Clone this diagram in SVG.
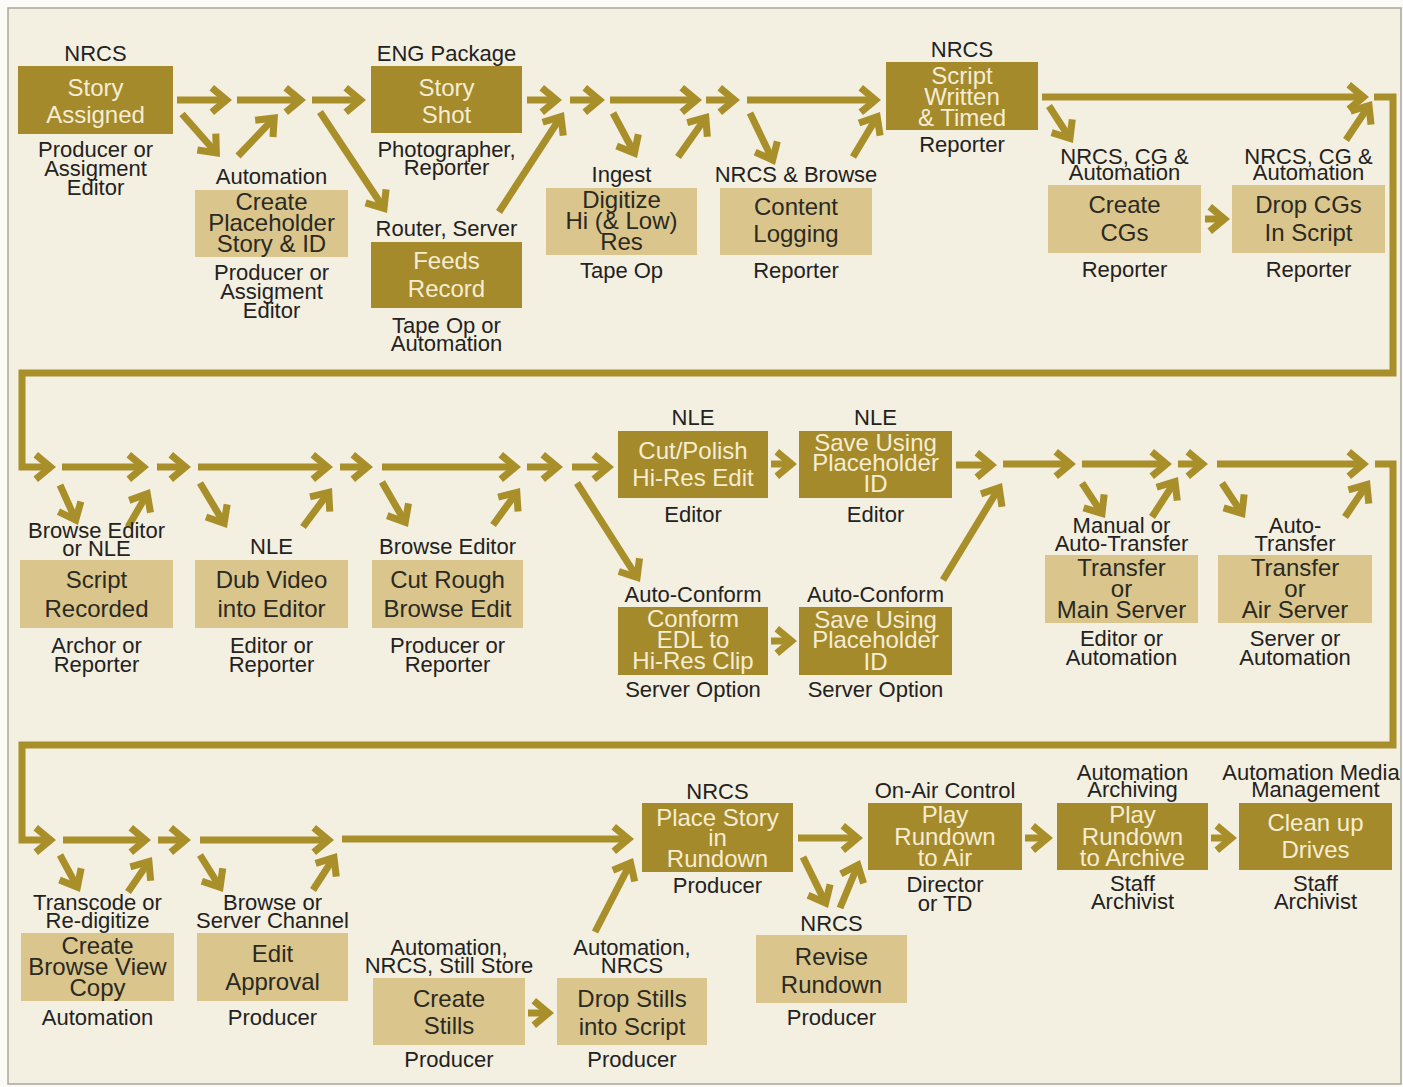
<svg xmlns="http://www.w3.org/2000/svg" width="1403" height="1087" viewBox="0 0 1403 1087">
<defs>
<style>
.d{fill:#a48a2b}
.l{fill:#dac58c}
.dt{font-family:"Liberation Sans",Arial,sans-serif;font-size:24px;fill:#f6edd3;text-anchor:middle}
.lt{font-family:"Liberation Sans",Arial,sans-serif;font-size:24px;fill:#2b2a22;text-anchor:middle}
.lb{font-family:"Liberation Sans",Arial,sans-serif;font-size:22px;fill:#232220;text-anchor:middle}
.a{stroke:#a88f2a;stroke-width:7;fill:none;marker-end:url(#ah);stroke-linejoin:miter}
.p{stroke:#a88f2a;stroke-width:7;fill:none;stroke-linejoin:miter}
</style>
<marker id="ah" viewBox="-24 -17 28 34" markerWidth="28" markerHeight="34" refX="-6" refY="0" orient="auto" markerUnits="userSpaceOnUse" overflow="visible">
<polygon points="0,0 -18,-15 -22.5,-9.6 -11,0 -22.5,9.6 -18,15" fill="#a88f2a"/>
</marker>
</defs>
<rect x="0" y="0" width="1403" height="1087" fill="#fbfaf6"/>
<rect x="8" y="8" width="1393" height="1076" fill="#f3efe1" stroke="#a9a69c" stroke-width="1.5"/>

<g id="connectors">
<!-- row 1 -->
<path class="a" d="M177,100 H226"/>
<path class="a" d="M237,100 H300"/>
<path class="a" d="M312,100 H360"/>
<path class="a" d="M527,100 H556"/>
<path class="a" d="M570,100 H599"/>
<path class="a" d="M610,100 H696"/>
<path class="a" d="M706,100 H734"/>
<path class="a" d="M747,100 H875"/>
<path class="a" d="M1042,97 H1363"/>
<path class="a" d="M182,114 L216,152.5"/>
<path class="a" d="M238,156 L273.9,118.3"/>
<path class="a" d="M320,112 L383.7,208"/>
<path class="a" d="M499,212 L560.7,117"/>
<path class="a" d="M613,113 L634.2,152.7"/>
<path class="a" d="M678,157 L705.5,118"/>
<path class="a" d="M750,113 L772.4,159.6"/>
<path class="a" d="M853,157 L876.9,117.1"/>
<path class="a" d="M1049,106 L1069.7,138"/>
<path class="a" d="M1346,140 L1368.7,106"/>
<path class="a" d="M1205,219 H1224"/>
<!-- loop 1 into row 2 -->
<path class="a" d="M1374,97 H1393 V373 H22 V467 H50"/>
<!-- row 2 -->
<path class="a" d="M62,467 H143"/>
<path class="a" d="M157,467 H185"/>
<path class="a" d="M198,467 H327"/>
<path class="a" d="M340,467 H367"/>
<path class="a" d="M382,467 H515"/>
<path class="a" d="M527,467 H557"/>
<path class="a" d="M572,467 H608"/>
<path class="a" d="M771,464 H791"/>
<path class="a" d="M771,641 H791"/>
<path class="a" d="M956,465 H991"/>
<path class="a" d="M1003,464 H1070"/>
<path class="a" d="M1082,464 H1166"/>
<path class="a" d="M1178,464 H1202"/>
<path class="a" d="M1217,464 H1363"/>
<path class="a" d="M60,485 L75.5,519.5"/>
<path class="a" d="M128,527 L147,494.2"/>
<path class="a" d="M200,483 L223.9,522.9"/>
<path class="a" d="M303,527 L328.4,492.8"/>
<path class="a" d="M382,482 L405,521.8"/>
<path class="a" d="M493,525 L516.5,492.8"/>
<path class="a" d="M577,483 L636.8,576.9"/>
<path class="a" d="M943,580 L998.9,488.1"/>
<path class="a" d="M1082,483 L1101.7,513"/>
<path class="a" d="M1152,517 L1174.7,482"/>
<path class="a" d="M1222,483 L1241.7,513"/>
<path class="a" d="M1345,517 L1366.6,485"/>
<!-- loop 2 into row 3 -->
<path class="a" d="M1375,464 H1393 V745 H22 V840 H50"/>
<!-- row 3 -->
<path class="a" d="M63,840 H145"/>
<path class="a" d="M158,840 H185"/>
<path class="a" d="M200,840 H328"/>
<path class="a" d="M342,839 H628"/>
<path class="a" d="M798,838 H857"/>
<path class="a" d="M1025,838 H1047"/>
<path class="a" d="M1211,838 H1231"/>
<path class="a" d="M528,1013 H548"/>
<path class="a" d="M60,855 L77.1,886.7"/>
<path class="a" d="M128,892 L148.6,862"/>
<path class="a" d="M200,855 L219.8,886.9"/>
<path class="a" d="M313,890 L333.7,858"/>
<path class="a" d="M595,932 L630.3,863.3"/>
<path class="a" d="M803,857 L825.4,902.6"/>
<path class="a" d="M840,908 L857.7,865.5"/>
</g>

<g id="story-assigned">
<text class="lb" x="95.5" y="61">NRCS</text>
<rect class="d" x="18" y="66" width="155" height="68"/>
<text class="dt" x="95.5" y="96">Story</text>
<text class="dt" x="95.5" y="123">Assigned</text>
<text class="lb" x="95.5" y="157">Producer or</text>
<text class="lb" x="95.5" y="176">Assigment</text>
<text class="lb" x="95.5" y="195">Editor</text>
</g>
<g id="create-placeholder">
<text class="lb" x="271.5" y="184">Automation</text>
<rect class="l" x="195" y="190" width="153" height="67"/>
<text class="lt" x="271.5" y="210">Create</text>
<text class="lt" x="271.5" y="231">Placeholder</text>
<text class="lt" x="271.5" y="252">Story &amp; ID</text>
<text class="lb" x="271.5" y="280">Producer or</text>
<text class="lb" x="271.5" y="299">Assigment</text>
<text class="lb" x="271.5" y="318">Editor</text>
</g>
<g id="story-shot">
<text class="lb" x="446.5" y="61">ENG Package</text>
<rect class="d" x="371" y="66" width="151" height="67"/>
<text class="dt" x="446.5" y="96">Story</text>
<text class="dt" x="446.5" y="123">Shot</text>
<text class="lb" x="446.5" y="157">Photographer,</text>
<text class="lb" x="446.5" y="175">Reporter</text>
</g>
<g id="feeds-record">
<text class="lb" x="446.5" y="236">Router, Server</text>
<rect class="d" x="371" y="242" width="151" height="66"/>
<text class="dt" x="446.5" y="269">Feeds</text>
<text class="dt" x="446.5" y="297">Record</text>
<text class="lb" x="446.5" y="333">Tape Op or</text>
<text class="lb" x="446.5" y="351">Automation</text>
</g>
<g id="digitize">
<text class="lb" x="621.5" y="182">Ingest</text>
<rect class="l" x="546" y="188" width="151" height="67"/>
<text class="lt" x="621.5" y="208">Digitize</text>
<text class="lt" x="621.5" y="229">Hi (&amp; Low)</text>
<text class="lt" x="621.5" y="250">Res</text>
<text class="lb" x="621.5" y="278">Tape Op</text>
</g>
<g id="content-logging">
<text class="lb" x="796" y="182">NRCS &amp; Browse</text>
<rect class="l" x="720" y="188" width="152" height="67"/>
<text class="lt" x="796" y="215">Content</text>
<text class="lt" x="796" y="242">Logging</text>
<text class="lb" x="796" y="278">Reporter</text>
</g>
<g id="script-written">
<text class="lb" x="962" y="57">NRCS</text>
<rect class="d" x="886" y="62" width="152" height="68"/>
<text class="dt" x="962" y="84">Script</text>
<text class="dt" x="962" y="105">Written</text>
<text class="dt" x="962" y="126">&amp; Timed</text>
<text class="lb" x="962" y="152">Reporter</text>
</g>
<g id="create-cgs">
<text class="lb" x="1124.5" y="164">NRCS, CG &amp;</text>
<text class="lb" x="1124.5" y="180">Automation</text>
<rect class="l" x="1048" y="185" width="153" height="68"/>
<text class="lt" x="1124.5" y="213">Create</text>
<text class="lt" x="1124.5" y="241">CGs</text>
<text class="lb" x="1124.5" y="277">Reporter</text>
</g>
<g id="drop-cgs">
<text class="lb" x="1308.5" y="164">NRCS, CG &amp;</text>
<text class="lb" x="1308.5" y="180">Automation</text>
<rect class="l" x="1232" y="185" width="153" height="68"/>
<text class="lt" x="1308.5" y="213">Drop CGs</text>
<text class="lt" x="1308.5" y="241">In Script</text>
<text class="lb" x="1308.5" y="277">Reporter</text>
</g>

<g id="script-recorded">
<text class="lb" x="96.5" y="538">Browse Editor</text>
<text class="lb" x="96.5" y="556">or NLE</text>
<rect class="l" x="20" y="560" width="153" height="68"/>
<text class="lt" x="96.5" y="588">Script</text>
<text class="lt" x="96.5" y="617">Recorded</text>
<text class="lb" x="96.5" y="653">Archor or</text>
<text class="lb" x="96.5" y="672">Reporter</text>
</g>
<g id="dub-video">
<text class="lb" x="271.5" y="554">NLE</text>
<rect class="l" x="195" y="560" width="153" height="68"/>
<text class="lt" x="271.5" y="588">Dub Video</text>
<text class="lt" x="271.5" y="617">into Editor</text>
<text class="lb" x="271.5" y="653">Editor or</text>
<text class="lb" x="271.5" y="672">Reporter</text>
</g>
<g id="cut-rough">
<text class="lb" x="447.5" y="554">Browse Editor</text>
<rect class="l" x="372" y="560" width="151" height="68"/>
<text class="lt" x="447.5" y="588">Cut Rough</text>
<text class="lt" x="447.5" y="617">Browse Edit</text>
<text class="lb" x="447.5" y="653">Producer or</text>
<text class="lb" x="447.5" y="672">Reporter</text>
</g>
<g id="cut-polish">
<text class="lb" x="693" y="425">NLE</text>
<rect class="d" x="618" y="431" width="150" height="67"/>
<text class="dt" x="693" y="459">Cut/Polish</text>
<text class="dt" x="693" y="486">Hi-Res Edit</text>
<text class="lb" x="693" y="522">Editor</text>
</g>
<g id="save-nle">
<text class="lb" x="875.5" y="425">NLE</text>
<rect class="d" x="799" y="431" width="153" height="67"/>
<text class="dt" x="875.5" y="451">Save Using</text>
<text class="dt" x="875.5" y="471">Placeholder</text>
<text class="dt" x="875.5" y="492">ID</text>
<text class="lb" x="875.5" y="522">Editor</text>
</g>
<g id="conform">
<text class="lb" x="693" y="602">Auto-Conform</text>
<rect class="d" x="618" y="607" width="150" height="68"/>
<text class="dt" x="693" y="627">Conform</text>
<text class="dt" x="693" y="648">EDL to</text>
<text class="dt" x="693" y="669">Hi-Res Clip</text>
<text class="lb" x="693" y="697">Server Option</text>
</g>
<g id="save-auto">
<text class="lb" x="875.5" y="602">Auto-Conform</text>
<rect class="d" x="799" y="607" width="153" height="68"/>
<text class="dt" x="875.5" y="628">Save Using</text>
<text class="dt" x="875.5" y="648">Placeholder</text>
<text class="dt" x="875.5" y="670">ID</text>
<text class="lb" x="875.5" y="697">Server Option</text>
</g>
<g id="transfer-main">
<text class="lb" x="1121.5" y="533">Manual or</text>
<text class="lb" x="1121.5" y="551">Auto-Transfer</text>
<rect class="l" x="1045" y="555" width="153" height="68"/>
<text class="lt" x="1121.5" y="576">Transfer</text>
<text class="lt" x="1121.5" y="597">or</text>
<text class="lt" x="1121.5" y="618">Main Server</text>
<text class="lb" x="1121.5" y="646">Editor or</text>
<text class="lb" x="1121.5" y="665">Automation</text>
</g>
<g id="transfer-air">
<text class="lb" x="1295" y="533">Auto-</text>
<text class="lb" x="1295" y="551">Transfer</text>
<rect class="l" x="1218" y="555" width="154" height="68"/>
<text class="lt" x="1295" y="576">Transfer</text>
<text class="lt" x="1295" y="597">or</text>
<text class="lt" x="1295" y="618">Air Server</text>
<text class="lb" x="1295" y="646">Server or</text>
<text class="lb" x="1295" y="665">Automation</text>
</g>

<g id="browse-copy">
<text class="lb" x="97.5" y="910">Transcode or</text>
<text class="lb" x="97.5" y="928">Re-digitize</text>
<rect class="l" x="21" y="933" width="153" height="68"/>
<text class="lt" x="97.5" y="954">Create</text>
<text class="lt" x="97.5" y="975">Browse View</text>
<text class="lt" x="97.5" y="996">Copy</text>
<text class="lb" x="97.5" y="1025">Automation</text>
</g>
<g id="edit-approval">
<text class="lb" x="272.5" y="910">Browse or</text>
<text class="lb" x="272.5" y="928">Server Channel</text>
<rect class="l" x="197" y="933" width="151" height="68"/>
<text class="lt" x="272.5" y="962">Edit</text>
<text class="lt" x="272.5" y="990">Approval</text>
<text class="lb" x="272.5" y="1025">Producer</text>
</g>
<g id="create-stills">
<text class="lb" x="449" y="955">Automation,</text>
<text class="lb" x="449" y="973">NRCS, Still Store</text>
<rect class="l" x="373" y="978" width="152" height="67"/>
<text class="lt" x="449" y="1007">Create</text>
<text class="lt" x="449" y="1034">Stills</text>
<text class="lb" x="449" y="1067">Producer</text>
</g>
<g id="drop-stills">
<text class="lb" x="632" y="955">Automation,</text>
<text class="lb" x="632" y="973">NRCS</text>
<rect class="l" x="557" y="978" width="150" height="67"/>
<text class="lt" x="632" y="1007">Drop Stills</text>
<text class="lt" x="632" y="1035">into Script</text>
<text class="lb" x="632" y="1067">Producer</text>
</g>
<g id="place-story">
<text class="lb" x="717.5" y="799">NRCS</text>
<rect class="d" x="642" y="803" width="151" height="69"/>
<text class="dt" x="717.5" y="826">Place Story</text>
<text class="dt" x="717.5" y="846">in</text>
<text class="dt" x="717.5" y="867">Rundown</text>
<text class="lb" x="717.5" y="893">Producer</text>
</g>
<g id="revise-rundown">
<text class="lb" x="831.5" y="931">NRCS</text>
<rect class="l" x="756" y="935" width="151" height="68"/>
<text class="lt" x="831.5" y="965">Revise</text>
<text class="lt" x="831.5" y="993">Rundown</text>
<text class="lb" x="831.5" y="1025">Producer</text>
</g>
<g id="play-air">
<text class="lb" x="945" y="798">On-Air Control</text>
<rect class="d" x="868" y="803" width="154" height="67"/>
<text class="dt" x="945" y="823">Play</text>
<text class="dt" x="945" y="845">Rundown</text>
<text class="dt" x="945" y="866">to Air</text>
<text class="lb" x="945" y="892">Director</text>
<text class="lb" x="945" y="911">or TD</text>
</g>
<g id="play-archive">
<text class="lb" x="1132.5" y="780">Automation</text>
<text class="lb" x="1132.5" y="797">Archiving</text>
<rect class="d" x="1057" y="803" width="151" height="67"/>
<text class="dt" x="1132.5" y="823">Play</text>
<text class="dt" x="1132.5" y="845">Rundown</text>
<text class="dt" x="1132.5" y="866">to Archive</text>
<text class="lb" x="1132.5" y="891">Staff</text>
<text class="lb" x="1132.5" y="909">Archivist</text>
</g>
<g id="clean-up">
<text class="lb" x="1311" y="780">Automation Media</text>
<text class="lb" x="1315.5" y="797">Management</text>
<rect class="d" x="1239" y="803" width="153" height="67"/>
<text class="dt" x="1315.5" y="831">Clean up</text>
<text class="dt" x="1315.5" y="858">Drives</text>
<text class="lb" x="1315.5" y="891">Staff</text>
<text class="lb" x="1315.5" y="909">Archivist</text>
</g>
</svg>
